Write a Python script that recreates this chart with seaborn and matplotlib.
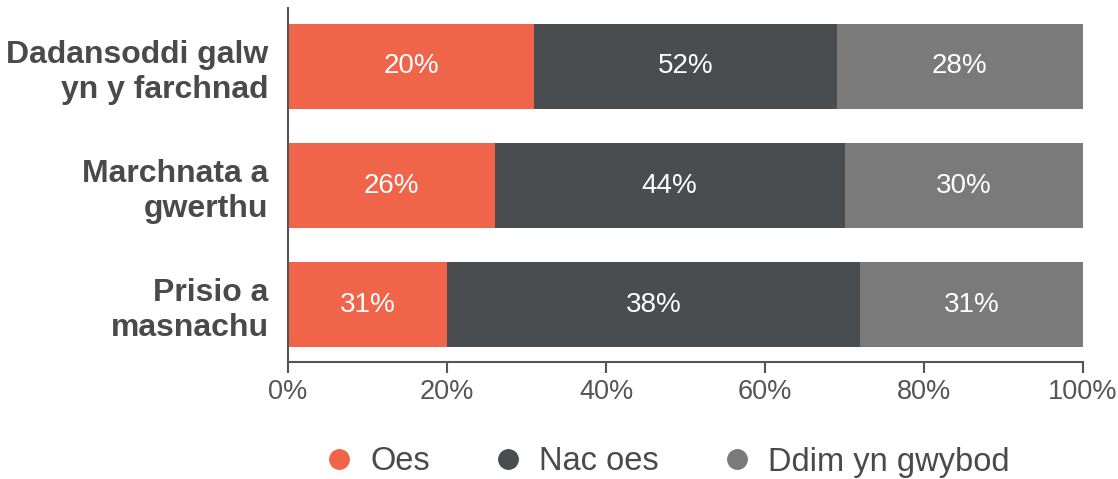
import matplotlib
matplotlib.use("Agg")
import matplotlib.pyplot as plt
import seaborn as sns
import pandas as pd
import numpy as np
from matplotlib.lines import Line2D

categories = ["Dadansoddi galw\nyn y farchnad", "Marchnata a\ngwerthu", "Prisio a\nmasnachu"]
series_names = ["Oes", "Nac oes", "Ddim yn gwybod"]
# segment widths as drawn in the reference
oes = [31, 26, 20]
nac_oes = [38, 44, 52]
ddim = [31, 30, 28]
# labels as printed in the reference
oes_labels = ["20%", "26%", "31%"]
nac_labels = ["52%", "44%", "38%"]
ddim_labels = ["28%", "30%", "31%"]
xticks = [0, 20, 40, 60, 80, 100]
xtick_labels = ["0%", "20%", "40%", "60%", "80%", "100%"]

colors = ["#F0654A", "#4A4D50", "#7A7A7B"]
text_dark = "#4A4A4A"

sns.set_style("white")
plt.rcParams["font.family"] = ["Liberation Sans", "DejaVu Sans"]

df = pd.DataFrame({"cat": categories, "Oes": oes, "Nac": nac_oes, "Ddim": ddim})
df["c1"] = df["Oes"]
df["c2"] = df["Oes"] + df["Nac"]
df["c3"] = df["c2"] + df["Ddim"]

fig = plt.figure(figsize=(11.18, 4.79), dpi=100)
ax = fig.add_axes([288/1118, 1-362/479, (1083-288)/1118, (362-8)/479])

w = 0.714
for col, c in zip(["c3", "c2", "c1"], [colors[2], colors[1], colors[0]]):
    sns.barplot(data=df, y="cat", x=col, color=c, orient="h", width=w, ax=ax,
                saturation=1, linewidth=0, edgecolor=c)

for i in range(len(categories)):
    starts = [0, df["c1"][i], df["c2"][i]]
    widths = [oes[i], nac_oes[i], ddim[i]]
    labs = [oes_labels[i], nac_labels[i], ddim_labels[i]]
    for s, wd, lb in zip(starts, widths, labs):
        ax.text(s + wd/2, i, lb, ha="center", va="center", color="white", fontsize=20)

ax.set_xlim(0, 100)
ax.set_ylim(2.48, -0.49)
ax.set_xticks(xticks)
ax.set_xticklabels(xtick_labels, fontsize=19.5, color="#555555")
ax.set_xlabel("")
ax.set_ylabel("")
ax.set_yticks(range(len(categories)))
ax.set_yticklabels(categories, fontsize=23, fontweight="bold", color=text_dark, linespacing=1.2)
ax.tick_params(axis="y", length=0, pad=14)
ax.tick_params(axis="x", length=8, width=1.5, color="#555555", direction="out", pad=4, bottom=True)
for sp in ["top", "right"]:
    ax.spines[sp].set_visible(False)
for sp in ["left", "bottom"]:
    ax.spines[sp].set_color("#555555")
    ax.spines[sp].set_linewidth(1.5)

handles = [Line2D([0], [0], marker="o", linestyle="", markersize=14, markerfacecolor=c, markeredgecolor=c) for c in colors]
fig.legend(handles, series_names, loc="center", bbox_to_anchor=(0.596, 1-462/479), ncol=3, frameon=False,
           fontsize=23.5, labelcolor=text_dark, handlelength=1.0, handletextpad=0.45, columnspacing=1.9)

fig.savefig("out.png", dpi=100)
